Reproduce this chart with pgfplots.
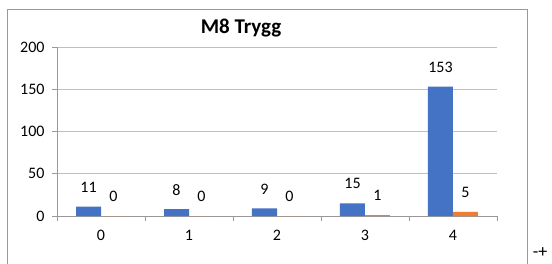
\documentclass[border=0pt]{standalone}
\usepackage{fontspec}
\setmainfont{Carlito}
\usepackage{pgfplots}
\pgfplotsset{compat=1.18}
\definecolor{xblue}{HTML}{4472C4}
\definecolor{xorange}{HTML}{ED7D31}
\begin{document}
\begin{tikzpicture}[x=1pt,y=1pt]
\useasboundingbox (0,0) rectangle (552,263);
\fill[white] (0,0) rectangle (552,263);
\draw[black!40, line width=1pt] (7,-5) -- (7,253) -- (527,253) -- (527,-5);
\node[font=\fontsize{18}{20}\selectfont, anchor=south, inner sep=0pt] at (540,5) {-+};
\node[font=\fontsize{21}{24}\selectfont\bfseries] at (241,235) {M8 Trygg};
\begin{axis}[
  at={(57pt,47pt)}, anchor=south west,
  scale only axis, width=440pt, height=169pt,
  xmin=-0.5, xmax=4.5, ymin=0, ymax=200,
  axis x line*=bottom, axis y line*=left,
  axis line style={black!40, line width=0.8pt},
  xtick={0,1,2,3,4},
  minor xtick={-0.5,0.5,1.5,2.5,3.5,4.5},
  ytick={0,50,100,150,200},
  tick align=outside,
  major tick length=5pt, minor tick length=5pt,
  major x tick style={draw=none},
  minor tick style={black!40, line width=0.8pt},
  major y tick style={black!40, line width=0.8pt},
  ymajorgrids,
  grid style={black!25, line width=0.8pt},
  /pgf/number format/assume math mode=true,
  ticklabel style={font=\fontsize{16}{19}\selectfont, text=black},
  xticklabel style={yshift=-6pt},
  yticklabel style={xshift=-4pt},
  ybar=0pt, bar width=25pt,
  nodes near coords,
  every node near coord/.append style={font=\fontsize{16}{19}\selectfont, text=black, anchor=center, yshift=19.5pt},
  clip=false,
]
\addplot[fill=xblue, draw=none] coordinates {(0,11) (1,8) (2,9) (3,15) (4,153)};
\addplot[fill=xorange, draw=none] coordinates {(0,0) (1,0) (2,0) (3,1) (4,5)};
\end{axis}
\end{tikzpicture}
\end{document}
